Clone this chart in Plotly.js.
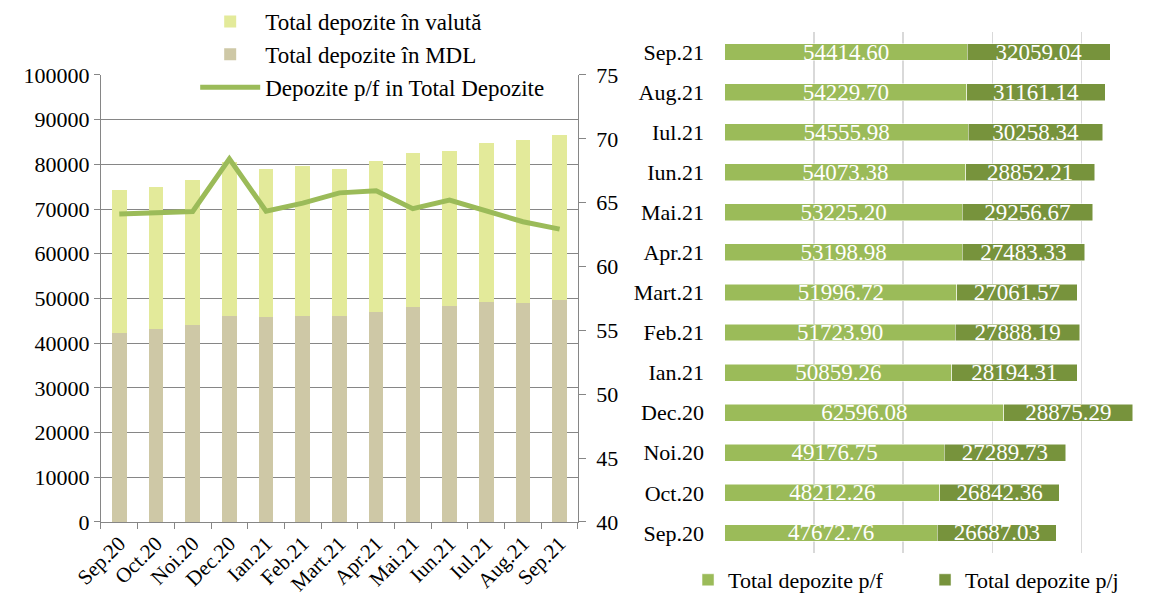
<!DOCTYPE html>
<html>
<head>
<meta charset="utf-8">
<script src="https://cdn.plot.ly/plotly-3.0.1.min.js"></script>
<style>html,body{margin:0;padding:0;background:#fff}#chart{width:1155px;height:598px}</style>
</head>
<body>
<div id="chart"></div>
<script>
// Left chart data
const months = ["Sep.20","Oct.20","Noi.20","Dec.20","Ian.21","Feb.21","Mart.21","Apr.21","Mai.21","Iun.21","Iul.21","Aug.21","Sep.21"];
const depoziteMDL = [42200, 43250, 44150, 46100, 45750, 46150, 46100, 47000, 48200, 48350, 49300, 48900, 49700];
const depoziteValuta = [32150, 31800, 32300, 34500, 33300, 33450, 32950, 33700, 34300, 34600, 35500, 36500, 36800];
const sharePF = [64.11, 64.24, 64.31, 68.43, 64.34, 64.97, 65.77, 65.94, 64.53, 65.21, 64.32, 63.51, 62.93];

// Right chart data
const depozitePF = [47672.76, 48212.26, 49176.75, 62596.08, 50859.26, 51723.90, 51996.72, 53198.98, 53225.20, 54073.38, 54555.98, 54229.70, 54414.60];
const depozitePJ = [26687.03, 26842.36, 27289.73, 28875.29, 28194.31, 27888.19, 27061.57, 27483.33, 29256.67, 28852.21, 30258.34, 31161.14, 32059.04];
const labelsPF = ["47672.76","48212.26","49176.75","62596.08","50859.26","51723.90","51996.72","53198.98","53225.20","54073.38","54555.98","54229.70","54414.60"];
const labelsPJ = ["26687.03","26842.36","27289.73","28875.29","28194.31","27888.19","27061.57","27483.33","29256.67","28852.21","30258.34","31161.14","32059.04"];

const FONT = "Liberation Serif, Times New Roman, serif";

const traces = [
  {type:"bar", name:"Total depozite în MDL", x:months, y:depoziteMDL, xaxis:"x", yaxis:"y", width:0.4,
   marker:{color:"#CEC8A6"}, legend:"legend", legendrank:2},
  {type:"bar", name:"Total depozite în valută", x:months, y:depoziteValuta, xaxis:"x", yaxis:"y", width:0.4,
   marker:{color:"#E3EA9A"}, legend:"legend", legendrank:1},
  {type:"scatter", mode:"lines", name:"Depozite p/f in Total Depozite", x:months, y:sharePF, xaxis:"x", yaxis:"y2",
   line:{color:"#9BBB59", width:5}, legend:"legend", legendrank:3},
  {type:"bar", orientation:"h", name:"Total depozite p/f", y:months, x:depozitePF, xaxis:"x3", yaxis:"y3", width:0.42,
   marker:{color:"#9BBB59", line:{color:"#ffffff", width:0.5}}, text:labelsPF, textposition:"inside", insidetextanchor:"middle",
   textangle:0, constraintext:"none", textfont:{family:FONT, size:23, color:"#ffffff"}, legend:"legend2"},
  {type:"bar", orientation:"h", name:"Total depozite p/j", y:months, x:depozitePJ, xaxis:"x3", yaxis:"y3", width:0.42,
   marker:{color:"#77933C", line:{color:"#ffffff", width:0.5}}, text:labelsPJ, textposition:"inside", insidetextanchor:"middle",
   textangle:0, constraintext:"none", textfont:{family:FONT, size:23, color:"#ffffff"}, legend:"legend2"}
];

const layout = {
  width:1155, height:598,
  margin:{l:0, r:0, t:0, b:0, autoexpand:false},
  paper_bgcolor:"#ffffff", plot_bgcolor:"rgba(0,0,0,0)",
  font:{family:FONT, size:22, color:"#000000"},
  barmode:"stack",
  showlegend:true,
  xaxis:{domain:[0.0874, 0.5004], anchor:"y", type:"category", tickangle:-45,
         tickson:"boundaries", ticks:"outside", ticklen:6, tickcolor:"#868686",
         showline:true, linecolor:"#868686", showgrid:false, tickfont:{size:21}, automargin:false},
  yaxis:{domain:[0.1271, 0.8746], anchor:"x", range:[0,100000], dtick:10000,
         showgrid:true, gridcolor:"#868686", showline:true, linecolor:"#868686",
         ticks:"outside", ticklen:6, tickcolor:"#868686", zeroline:false, tickformat:"d", automargin:false},
  yaxis2:{overlaying:"y", side:"right", anchor:"x", range:[40,75], dtick:5,
          showgrid:false, showline:true, linecolor:"#868686", ticks:"outside", ticklen:7,
          tickcolor:"#868686", zeroline:false, ticklabelstandoff:6, automargin:false},
  xaxis3:{domain:[0.6277, 1.0], anchor:"y3", range:[0,96500], dtick:20000, tick0:0,
          showgrid:true, gridcolor:"#D9D9D9", gridwidth:1.5, showticklabels:false, showline:false, zeroline:false, ticks:"", automargin:false},
  yaxis3:{domain:[0.0753, 0.9465], anchor:"x3", type:"category", categoryorder:"array", categoryarray:months,
          range:[-0.5,12.5], showgrid:false, showline:false, ticks:"", ticklabelstandoff:20, tickfont:{size:22}, automargin:false},
  legend:{x:0.169, y:1.0, xanchor:"left", yanchor:"top", orientation:"v", traceorder:"normal",
          bgcolor:"rgba(255,255,255,0)", font:{size:23}, itemwidth:60, tracegroupgap:0},
  legend2:{x:0.5957, y:-0.005, xanchor:"left", yanchor:"bottom", orientation:"h", traceorder:"normal",
           bgcolor:"rgba(255,255,255,0)", font:{size:22}, itemwidth:30, entrywidth:192}
};

Plotly.newPlot("chart", traces, layout, {displayModeBar:false, staticPlot:true});
</script>
</body>
</html>
